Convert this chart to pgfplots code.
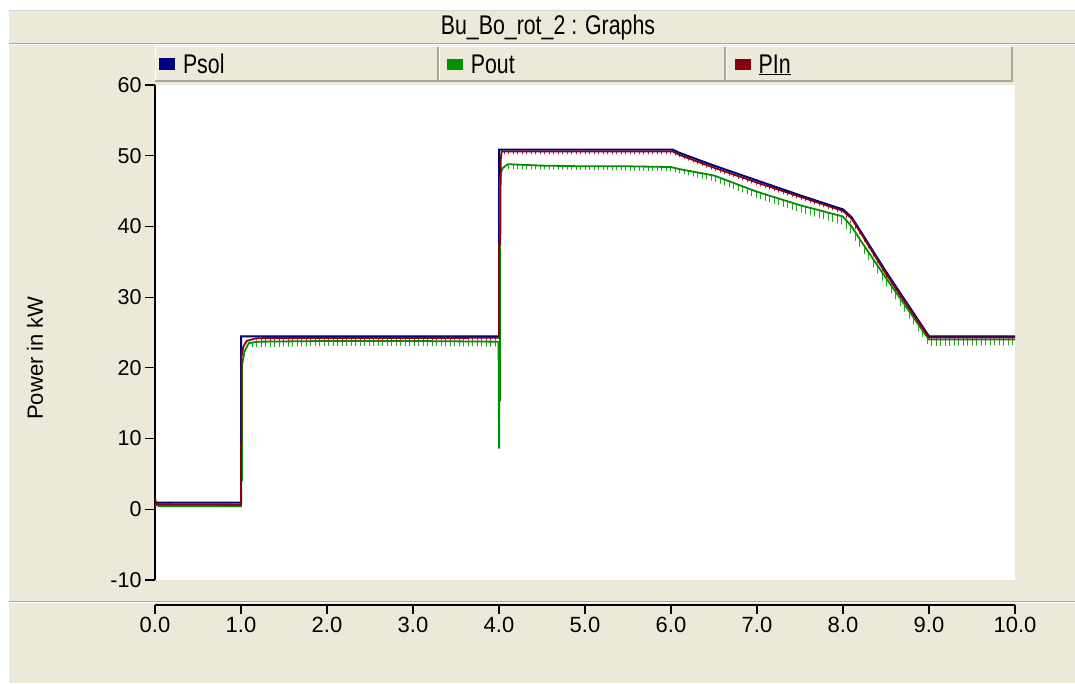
\documentclass[border=0pt]{standalone}
\usepackage{fontspec}
\setmainfont{Liberation Sans}
\newfontfamily\condfont[FakeStretch=0.79]{Liberation Sans}
\usepackage{pgfplots}
\pgfplotsset{compat=1.18}
\usetikzlibrary{patterns.meta}
\definecolor{xpbeige}{HTML}{ECE9D8}
\definecolor{xpgrey}{HTML}{ACA899}
\definecolor{psol}{HTML}{000080}
\definecolor{pout}{HTML}{009000}
\definecolor{poutlight}{HTML}{20A820}
\definecolor{pin}{HTML}{880010}
\begin{document}
\begin{tikzpicture}[x=1pt,y=1pt]
\useasboundingbox (0,0) rectangle (1075,683);
\fill[white] (0,0) rectangle (1075,683);
\fill[xpbeige] (9,0) rectangle (1075,672);
\draw[xpgrey!50, line width=1pt] (9,672.5) -- (1075,672.5);
% title separator
\draw[xpgrey, line width=1.5pt] (9,639.5) -- (1075,639.5);
\draw[white, line width=1pt] (9,638.2) -- (1075,638.2);
% bottom separator
\draw[xpgrey, line width=1.5pt] (9,81.5) -- (1075,81.5);
\draw[white, line width=1pt] (9,80.2) -- (1075,80.2);
% legend cells
\foreach \a/\b in {155/439,439/726,726/1013}{
  \draw[white, line width=1pt] (\a+0.5,602) -- (\a+0.5,636) -- (\b-1,636);
  \draw[xpgrey, line width=2pt] (\a,601.5) -- (\b-1,601.5) -- (\b-1,636);
}
\node[font=\condfont\fontsize{27}{31}\selectfont] at (548,655) {Bu\_Bo\_rot\_2 : Graphs};
\node[rotate=90, font=\fontsize{22}{26}\selectfont] at (35,325) {Power in kW};

\begin{axis}[
  at={(155pt,103pt)}, anchor=south west,
  scale only axis, width=860pt, height=495pt,
  xmin=0, xmax=10, ymin=-10, ymax=60,
  axis x line=none, axis y line*=left,
  axis line style={line width=1.8pt, -},
  axis background/.style={fill=white},
  ytick={-10,0,10,20,30,40,50,60},
  tick align=outside,
  major tick length=10pt,
  ytick style={line width=1.2pt, black},
  /pgf/number format/assume math mode=true,
  yticklabel style={font=\fontsize{21.5}{24}\selectfont},
  legend columns=3,
  legend style={at={(axis description cs:0.00465,1.0202)}, anchor=south west,
    draw=none, fill=none, inner sep=0pt, outer sep=0pt,
    font=\condfont\fontsize{27}{31}\selectfont,
    /tikz/every odd column/.append style={column sep=8pt},
    nodes={inner sep=0pt}},
  legend cell align=left,
  legend image code/.code={\fill (0pt,-5pt) rectangle (14pt,5pt);},
]
% ripple bands
\addplot[draw=none, forget plot, pattern={Lines[angle=90,distance=4.5pt,line width=1pt]}, pattern color=poutlight]
  coordinates {(1.10,23.6) (2.0,23.8) (3.0,23.8) (3.98,23.7) (3.98,23.0) (3.0,23.1) (2.0,23.1) (1.10,22.9)} -- cycle;
\addplot[draw=none, forget plot, pattern={Lines[angle=90,distance=4.5pt,line width=1pt]}, pattern color=poutlight]
  coordinates {(4.10,48.8) (5.0,48.5) (6.0,48.4) (6.5,47.2) (7.0,44.9) (7.5,43.0) (8.0,41.4) (8.1,40.0) (8.2,38.1) (8.5,32.7) (9.0,24.0) (10.0,24.0)
  (10.0,23.2) (9.0,23.1) (8.5,31.6) (8.2,37.0) (8.1,38.8) (8.0,40.2) (7.5,42.0) (7.0,44.0) (6.5,46.4) (6.0,47.8) (5.0,48.0) (4.10,48.1)} -- cycle;

\addplot[color=psol, line width=2pt] coordinates {
 (0,0.95) (1.0,0.95) (1.0,24.45) (4.0,24.45) (4.0,50.85) (6.02,50.85) (6.1,50.4) (6.3,49.5) (6.5,48.6)
 (7.0,46.5) (7.5,44.4) (8.0,42.4) (8.1,41.3) (8.2,39.4) (8.5,33.6) (9.0,24.45) (10,24.45)};
\addlegendentry{\makebox[264pt][l]{Psol}}

\addplot[color=pout, line width=1.8pt] coordinates {
 (0,0.45) (0.02,0.7) (0.04,0.45) (1.0,0.45) (1.0,4.1) (1.01,4.1) (1.01,20.2) (1.04,22.3) (1.09,23.5) (1.2,23.7)
 (2.0,23.8) (3.0,23.8) (3.995,23.7) (4.0,8.7) (4.003,8.7) (4.003,15.4) (4.01,15.4) (4.012,46.1) (4.02,47.5)
 (4.04,48.2) (4.1,48.8) (4.5,48.6) (5.0,48.5) (5.5,48.5) (6.0,48.4) (6.1,48.1) (6.5,47.2) (7.0,44.9)
 (7.5,43.0) (8.0,41.4) (8.1,40.0) (8.2,38.1) (8.5,32.7) (9.0,24.0) (10,24.0)};
\addlegendentry{\makebox[264pt][l]{Pout}}

\addplot[draw=none, forget plot, pattern={Lines[angle=90,distance=4.5pt,line width=0.9pt]}, pattern color=pin!80]
  coordinates {(1.18,24.2) (4.0,24.25) (4.0,23.85) (1.18,23.8)} -- cycle;
\addplot[draw=none, forget plot, pattern={Lines[angle=90,distance=4.5pt,line width=0.9pt]}, pattern color=pin!80]
  coordinates {(4.03,50.6) (6.02,50.6) (6.5,48.3) (7.0,46.2) (7.5,44.2) (8.0,42.2) (8.2,39.2) (8.5,33.3) (9.0,24.3) (10,24.3)
  (10,23.9) (9.0,23.9) (8.5,32.9) (8.2,38.8) (8.0,41.8) (7.5,43.8) (7.0,45.8) (6.5,47.9) (6.02,50.2) (4.03,50.2)} -- cycle;

\addplot[color=pin, line width=1.8pt] coordinates {
 (0,1.5) (0.02,0.7) (1.0,0.65) (1.0,9.3) (1.005,9.3) (1.005,21.6) (1.027,23.0) (1.066,23.8) (1.18,24.2)
 (4.0,24.25) (4.0,37.5) (4.015,37.5) (4.02,49.4) (4.03,50.6) (6.02,50.6) (6.1,50.1) (6.3,49.2) (6.5,48.3)
 (7.0,46.2) (7.5,44.2) (8.0,42.2) (8.1,41.1) (8.2,39.2) (8.5,33.3) (9.0,24.3) (10,24.3)};
\addlegendentry{\makebox[264pt][l]{\underline{PIn}}}
\end{axis}

\begin{axis}[
  at={(155pt,78pt)}, anchor=south west,
  scale only axis, width=860pt, height=10pt,
  xmin=0, xmax=10, ymin=0, ymax=1,
  axis x line*=bottom, axis y line=none,
  axis line style={line width=1.8pt, -},
  xtick={0,1,2,3,4,5,6,7,8,9,10},
  xticklabels={0.0,1.0,2.0,3.0,4.0,5.0,6.0,7.0,8.0,9.0,10.0},
  tick align=outside, major tick length=9pt,
  xtick style={line width=1.2pt, black},
  xticklabel style={font=\fontsize{22}{26}\selectfont},
]
\addplot[draw=none] coordinates {(0,0.5) (10,0.5)};
\end{axis}
\end{tikzpicture}
\end{document}
